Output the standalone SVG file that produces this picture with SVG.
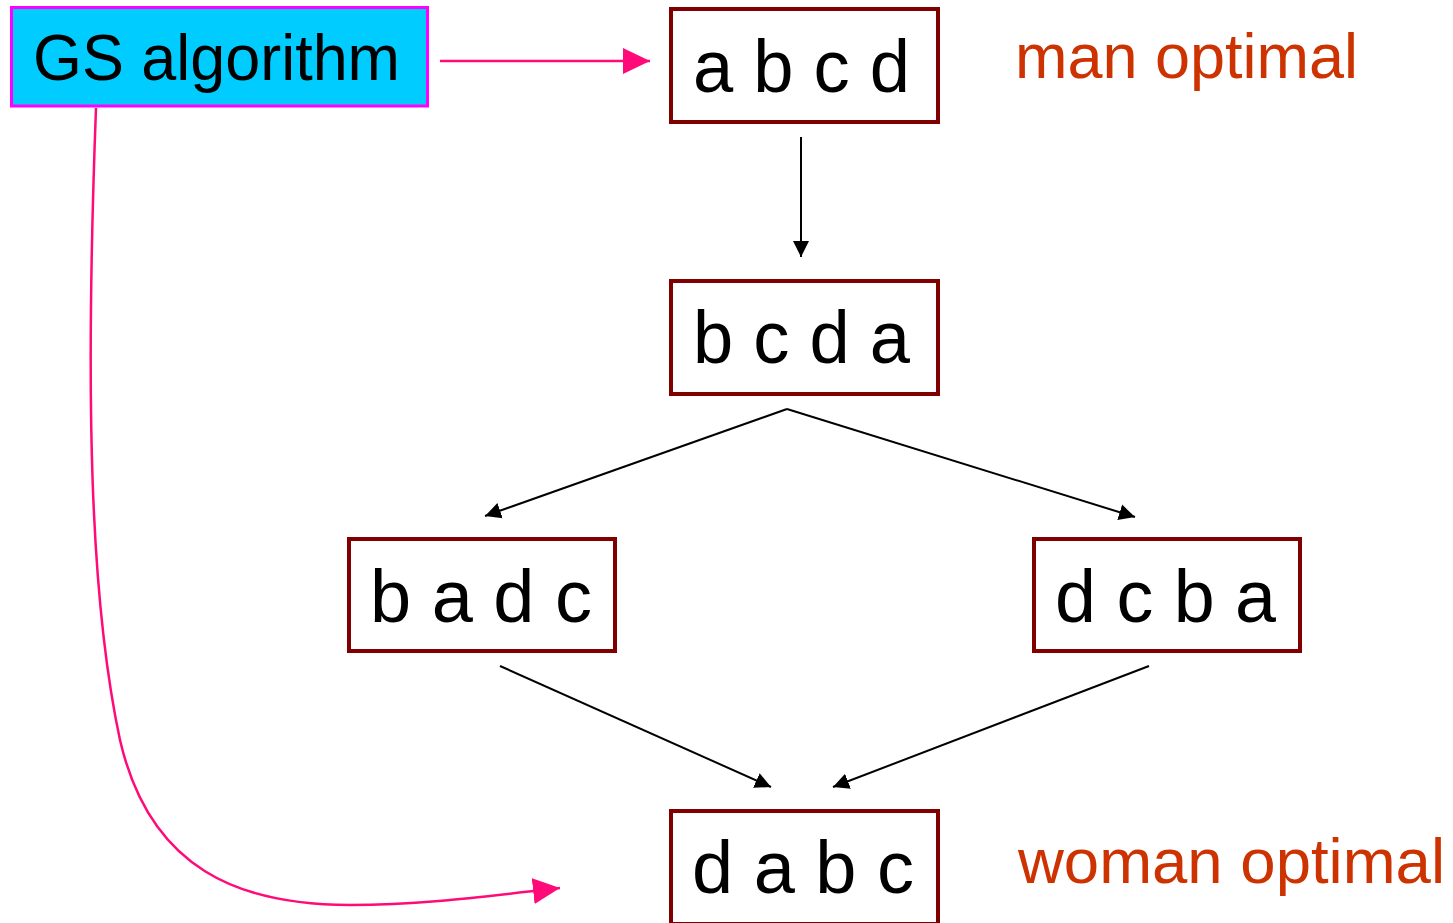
<svg xmlns="http://www.w3.org/2000/svg" width="1453" height="923" viewBox="0 0 1453 923">
  <defs>
    <marker id="blk" markerUnits="userSpaceOnUse" markerWidth="17" markerHeight="18" viewBox="0 0 17 18" refX="16" refY="9" orient="auto">
      <path d="M0,1 L16,9 L0,17 Z" fill="#000"/>
    </marker>
    <marker id="pnk" markerUnits="userSpaceOnUse" markerWidth="28" markerHeight="28" viewBox="0 0 28 28" refX="27" refY="14" orient="auto">
      <path d="M0,1 L27,14 L0,27 Z" fill="#FF0A78"/>
    </marker>
  </defs>
  <style>
    .node rect { fill: #fff; stroke: #800000; stroke-width: 4; }
    .node text { font-family: "Liberation Sans", Arial, sans-serif; font-size: 75px; fill: #000; }
    .lbl { font-family: "Liberation Sans", Arial, sans-serif; font-size: 63px; fill: #CC3300; }
    .blk { stroke: #000; stroke-width: 2; fill: none; marker-end: url(#blk); }
    .pnk { stroke: #FF0A78; stroke-width: 2.5; fill: none; marker-end: url(#pnk); }
  </style>
  <rect width="1453" height="923" fill="#fff"/>

  <g id="gs">
    <rect x="11.5" y="7.5" width="416" height="98.5" fill="#00CCFF" stroke="#FF00FF" stroke-width="3"/>
    <text x="33" y="80" font-family="Liberation Sans, Arial, sans-serif" font-size="65" fill="#000" textLength="367" lengthAdjust="spacingAndGlyphs">GS algorithm</text>
  </g>

  <g id="connectors">
    <line class="pnk" x1="440" y1="61" x2="650" y2="61"/>
    <path class="pnk" d="M96,108 C85,400 90,600 120,740 C150,870 240,905 350,905 C420,905 480,897 560,888"/>
    <line class="blk" x1="801" y1="137" x2="801" y2="257"/>
    <line class="blk" x1="787" y1="409" x2="485" y2="516"/>
    <line class="blk" x1="787" y1="409" x2="1135" y2="517"/>
    <line class="blk" x1="500" y1="666" x2="771" y2="787"/>
    <line class="blk" x1="1149" y1="666" x2="833" y2="787"/>
  </g>

  <g id="n_abcd" class="node">
    <rect x="671" y="9" width="267" height="113"/>
    <text x="693" y="92" textLength="217" lengthAdjust="spacingAndGlyphs">a b c d</text>
  </g>
  <g id="n_bcda" class="node">
    <rect x="671" y="281" width="267" height="113"/>
    <text x="693" y="363" textLength="217" lengthAdjust="spacingAndGlyphs">b c d a</text>
  </g>
  <g id="n_badc" class="node">
    <rect x="349" y="539" width="266" height="112"/>
    <text x="370" y="622" textLength="222" lengthAdjust="spacingAndGlyphs">b a d c</text>
  </g>
  <g id="n_dcba" class="node">
    <rect x="1034" y="539" width="266" height="112"/>
    <text x="1055" y="622" textLength="221" lengthAdjust="spacingAndGlyphs">d c b a</text>
  </g>
  <g id="n_dabc" class="node">
    <rect x="671" y="811" width="267" height="113"/>
    <text x="692" y="893" textLength="222" lengthAdjust="spacingAndGlyphs">d a b c</text>
  </g>

  <g id="labels">
    <text class="lbl" x="1015" y="78" textLength="343" lengthAdjust="spacingAndGlyphs">man optimal</text>
    <text class="lbl" x="1018" y="883" textLength="427" lengthAdjust="spacingAndGlyphs">woman optimal</text>
  </g>
</svg>
